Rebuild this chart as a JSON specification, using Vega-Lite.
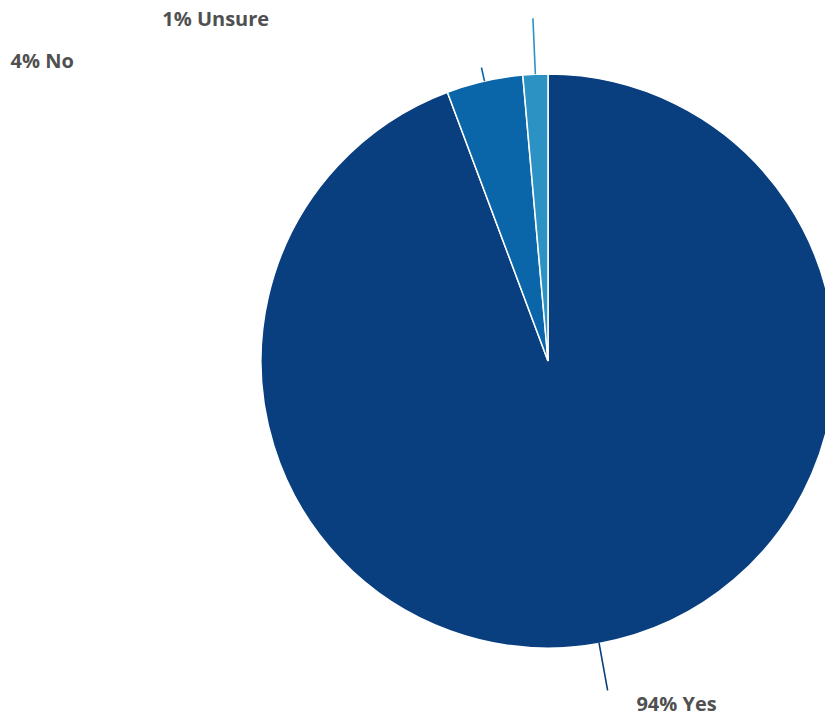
{
  "$schema": "https://vega.github.io/schema/vega-lite/v6.json",
  "width": 554,
  "height": 712,
  "autosize": {"type": "none"},
  "padding": {"left": 271, "top": 5, "right": 0, "bottom": 0},
  "background": "white",
  "config": {"view": {"stroke": null}},
  "data": {
    "values": [
      {"answer": "Yes", "pct": 94.3, "label": "94% Yes"},
      {"answer": "No", "pct": 4.3, "label": "4% No"},
      {"answer": "Unsure", "pct": 1.4, "label": "1% Unsure"}
    ]
  },
  "encoding": {
    "theta": {"field": "pct", "type": "quantitative", "stack": true, "scale": {"domain": [0, 100]}},
    "order": {"field": "pct", "sort": "descending"},
    "color": {
      "field": "answer",
      "type": "nominal",
      "scale": {"domain": ["Yes", "No", "Unsure"], "range": ["#0a3f7f", "#0a66a8", "#2c92c4"]},
      "legend": null
    }
  },
  "layer": [
    {"mark": {"type": "arc", "outerRadius": 287, "stroke": "white", "strokeWidth": 1.5}},
    {
      "mark": {"type": "arc", "filled": false, "innerRadius": 287, "outerRadius": 334, "theta2": 0, "thetaOffset": -2.9625, "theta2Offset": 2.9625, "strokeWidth": 1.6},
      "encoding": {"strokeOpacity": {"condition": {"test": "datum.answer === 'Yes'", "value": 1}, "value": 0}}
    },
    {
      "mark": {"type": "arc", "filled": false, "innerRadius": 287, "outerRadius": 301, "padAngle": 1, "strokeWidth": 1.6},
      "encoding": {"strokeOpacity": {"condition": {"test": "datum.answer === 'No'", "value": 1}, "value": 0}}
    },
    {
      "mark": {"type": "arc", "filled": false, "innerRadius": 287, "outerRadius": 343, "padAngle": 1, "strokeWidth": 1.6},
      "encoding": {"strokeOpacity": {"condition": {"test": "datum.answer === 'Unsure'", "value": 1}, "value": 0}}
    },
    {
      "mark": {"type": "text", "radius": 356, "align": "left", "baseline": "alphabetic", "dx": 25, "font": "Open Sans", "fontWeight": "bold", "fontSize": 20},
      "encoding": {
        "text": {"field": "label", "condition": {"test": "datum.answer !== 'Yes'", "value": ""}},
        "color": {"value": "#505050"}
      }
    },
    {
      "mark": {"type": "text", "radius": 300.5, "align": "left", "baseline": "alphabetic", "dx": -471, "font": "Open Sans", "fontWeight": "bold", "fontSize": 20},
      "encoding": {
        "text": {"field": "label", "condition": {"test": "datum.answer !== 'No'", "value": ""}},
        "color": {"value": "#505050"}
      }
    },
    {
      "mark": {"type": "text", "radius": 335.3, "align": "left", "baseline": "alphabetic", "dx": -371, "font": "Open Sans", "fontWeight": "bold", "fontSize": 20},
      "encoding": {
        "text": {"field": "label", "condition": {"test": "datum.answer !== 'Unsure'", "value": ""}},
        "color": {"value": "#505050"}
      }
    }
  ]
}
